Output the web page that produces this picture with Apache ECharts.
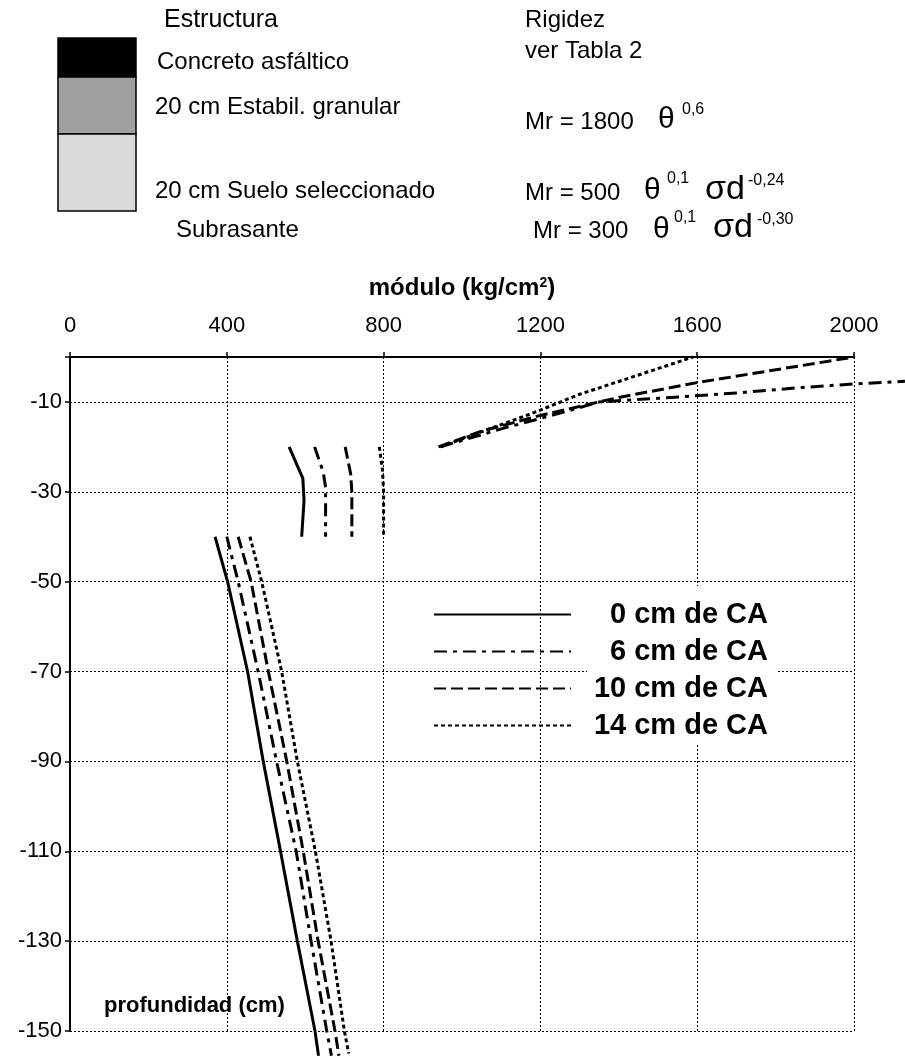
<!DOCTYPE html>
<html>
<head>
<meta charset="utf-8">
<script src="https://cdn.jsdelivr.net/npm/echarts@6/dist/echarts.min.js"></script>
<style>
html, body { margin: 0; padding: 0; background: #fff; }
#chart { width: 905px; height: 1057px; }
</style>
</head>
<body>
<div id="chart"></div>
<script>
// [modulo kg/cm2, profundidad cm]
const seriesNames = ['0 cm de CA', '6 cm de CA', '10 cm de CA', '14 cm de CA'];

// capa granular (Mr = 1800 θ^0,6)
const granular6 = [[945, -20], [1100, -16], [1250, -12.5], [1350, -10], [1500, -9.2], [1700, -8], [1850, -6.9], [2000, -6], [2130, -5.4]];
const granular10 = [[940, -20], [1050, -16.5], [1200, -13], [1400, -9], [1600, -5.7], [2000, 0]];
const granular14 = [[945, -20], [1180, -12.5], [1300, -8.3], [1590, 0]];

// suelo seleccionado
const suelo0 = [[559, -20], [594, -27], [597, -32], [591, -40]];
const suelo6 = [[624, -20], [646, -25.6], [652, -29], [652, -40]];
const suelo10 = [[702, -20], [716, -26], [719, -30], [719, -40]];
const suelo14 = [[789, -20], [797, -25], [800, -30], [800, -40]];

// subrasante
const subrasante0 = [[370, -40], [402, -50], [453, -70], [493, -90], [537, -110], [580, -130], [625, -150], [634, -155.5]];
const subrasante6 = [[400, -40], [429, -50], [480, -70], [527, -90], [577, -110], [615, -130], [655, -150], [667, -155.5]];
const subrasante10 = [[429, -40], [462, -50], [506, -70], [553, -90], [595, -110], [633, -130], [676, -150], [686, -155.5]];
const subrasante14 = [[459, -40], [489, -50], [540, -70], [580, -90], [626, -110], [666, -130], [700, -150], [711, -155]];

const curves = [
    [suelo0, subrasante0],
    [suelo6, subrasante6, granular6],
    [granular10, suelo10, subrasante10],
    [granular14, suelo14, subrasante14]
];
const lineTypes = ['solid', [13, 6, 4, 6], [12, 5], [4, 3]];

const font = "'Liberation Sans', Arial, sans-serif";

const chart = echarts.init(document.getElementById('chart'));

const series = [];
curves.forEach((segments, i) => {
    const lineStyle = { color: '#000', width: 3, type: lineTypes[i] };
    segments.forEach(seg => {
        // la serie 'line' recorta en x aunque clip sea false; los tramos
        // que pasan de 2000 se dibujan como 'lines'
        const beyond = seg.some(p => p[0] > 2000);
        if (beyond) {
            series.push({
                name: seriesNames[i],
                type: 'lines',
                coordinateSystem: 'cartesian2d',
                polyline: true,
                clip: false,
                silent: true,
                data: [{ coords: seg }],
                lineStyle: Object.assign({ opacity: 1, curveness: 0 }, lineStyle)
            });
        } else {
            series.push({
                name: seriesNames[i],
                type: 'line',
                data: seg,
                symbol: 'none',
                showSymbol: false,
                clip: false,
                silent: true,
                itemStyle: { color: '#000' },
                lineStyle
            });
        }
    });
});

// textos de la cabecera: [texto, x, y, tamaño]
const notes = [
    ['Estructura', 164, 20, 25],
    ['Concreto asfáltico', 157, 62, 24],
    ['20 cm Estabil. granular', 155, 107, 24],
    ['20 cm Suelo seleccionado', 155, 191, 24],
    ['Subrasante', 176, 230, 24],
    ['Rigidez', 525, 20, 24],
    ['ver Tabla 2', 525, 51, 24],
    ['Mr = 1800', 525, 122.5, 24],
    ['θ', 658, 119.5, 30],
    ['0,6', 682, 109.5, 16],
    ['Mr = 500', 525, 193, 24],
    ['θ', 644, 191, 30],
    ['0,1', 667, 179, 16],
    ['σd', 705, 190, 34],
    ['-0,24', 748, 181, 16],
    ['Mr = 300', 533, 231, 24],
    ['θ', 653, 229.5, 30],
    ['0,1', 674, 217.5, 16],
    ['σd', 713, 228, 34],
    ['-0,30', 757, 220, 16]
];

const graphics = [
    { type: 'rect', shape: { x: 58, y: 38, width: 78, height: 39 }, style: { fill: '#000', stroke: '#000', lineWidth: 1.5 } },
    { type: 'rect', shape: { x: 58, y: 77, width: 78, height: 57 }, style: { fill: '#a0a0a0', stroke: '#000', lineWidth: 1.5 } },
    { type: 'rect', shape: { x: 58, y: 134, width: 78, height: 77 }, style: { fill: '#d9d9d9', stroke: '#000', lineWidth: 1.5 } },
    // fondo blanco del texto de la leyenda
    { type: 'rect', z: 1, shape: { x: 587, y: 586, width: 190, height: 157 }, style: { fill: '#fff' } },
    {
        type: 'text', left: 104, top: 995, z: 5,
        style: { text: 'profundidad (cm)', font: 'bold 22px ' + font, fill: '#000' }
    }
];
notes.forEach(([text, x, y, size]) => {
    graphics.push({
        type: 'text', x, y,
        style: { text, font: size + 'px ' + font, fill: '#000', verticalAlign: 'middle', align: 'left' }
    });
});

const option = {
    backgroundColor: '#fff',
    animation: false,
    color: ['#000'],
    textStyle: { fontFamily: font },
    grid: { left: 70, right: 51, top: 357, bottom: 26 },
    legend: {
        orient: 'vertical',
        left: 428,
        top: 595,
        itemWidth: 137,
        itemHeight: 14,
        itemGap: 8,
        selectedMode: false,
        data: seriesNames,
        itemStyle: { opacity: 0 },
        formatter: '{t|{name}}',
        textStyle: {
            rich: {
                t: { width: 192, align: 'right', fontSize: 29, fontWeight: 'bold', fontFamily: font, color: '#000', lineHeight: 30 }
            }
        }
    },
    xAxis: {
        type: 'value',
        position: 'top',
        min: 0,
        max: 2000,
        interval: 400,
        name: 'módulo (kg/cm{s|2})',
        nameLocation: 'middle',
        nameGap: 57,
        nameTextStyle: {
            fontSize: 24, fontWeight: 'bold', color: '#000', fontFamily: font,
            rich: { s: { fontSize: 14, fontWeight: 'bold', verticalAlign: 'top', padding: [0, 0, 10, 0] } }
        },
        axisLine: { onZero: false, lineStyle: { color: '#000', width: 2 } },
        axisTick: { show: true, length: 5, lineStyle: { color: '#000', width: 1.5 } },
        axisLabel: { fontSize: 22, color: '#000', margin: 20, fontFamily: font, formatter: v => String(v) },
        splitLine: { show: true, lineStyle: { color: '#000', width: 1, type: [2, 2] } }
    },
    yAxis: {
        type: 'value',
        min: -150,
        max: 0,
        interval: 20,
        axisLine: { onZero: false, lineStyle: { color: '#000', width: 2 } },
        axisTick: { show: true, length: 5, lineStyle: { color: '#000', width: 1.5 } },
        axisLabel: {
            fontSize: 22, color: '#000', margin: 8, fontFamily: font,
            formatter: v => (v === 0 ? '' : String(v))
        },
        splitLine: { show: true, lineStyle: { color: '#000', width: 1, type: [2, 2] } }
    },
    graphic: graphics,
    series
};

chart.setOption(option);
</script>
</body>
</html>
